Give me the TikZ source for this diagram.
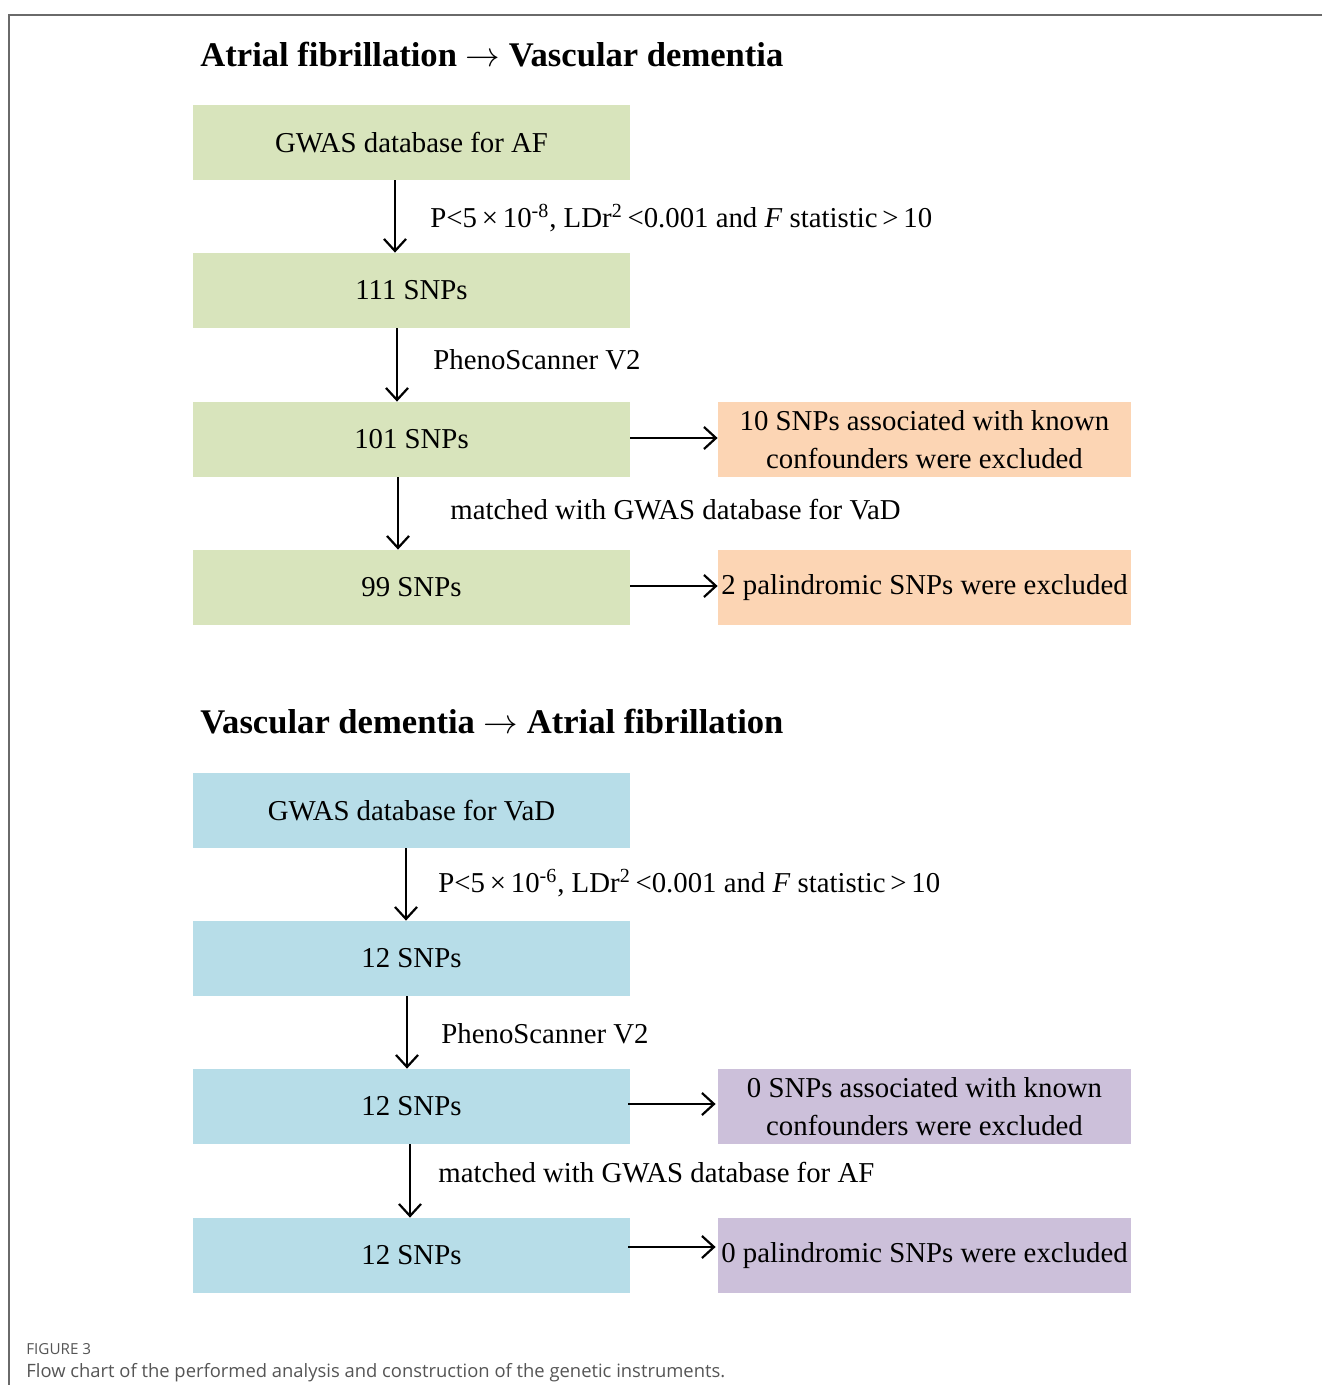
\documentclass[tikz,border=0pt]{standalone}
\usepackage{fontspec}
\setmainfont{Liberation Serif}
\newfontfamily\capfont{Open Sans}
\usetikzlibrary{arrows.meta}
\definecolor{gfill}{HTML}{D8E4BC}
\definecolor{ofill}{HTML}{FCD5B4}
\definecolor{bfill}{HTML}{B7DDE8}
\definecolor{pfill}{HTML}{CCC0DA}
\definecolor{framec}{HTML}{6A6A6A}
\definecolor{capc}{HTML}{555555}
\tikzset{
  mainbox/.style={minimum width=218.5pt, minimum height=37.5pt, inner sep=0pt, font=\fontsize{14.4}{17}\selectfont},
  sidebox/.style={minimum width=206.5pt, minimum height=37.5pt, inner sep=0pt, align=center, font=\fontsize{14.4}{19}\selectfont},
  gbox/.style={mainbox, fill=gfill},
  bbox/.style={mainbox, fill=bfill},
  obox/.style={sidebox, fill=ofill},
  pbox/.style={sidebox, fill=pfill},
  arr/.style={line width=1.2pt, -{Straight Barb[length=6pt, width=11pt, line width=1.1pt]}},
  steplabel/.style={anchor=west, inner sep=0pt, font=\fontsize{14.4}{17}\selectfont},
  titletext/.style={anchor=west, inner sep=0pt, font=\fontsize{17.3}{20}\selectfont\bfseries},
}
\begin{document}
\begin{tikzpicture}[x=0.5pt, y=-0.5pt]
\useasboundingbox (0,0) rectangle (1322,1385);
\draw[framec, line width=1pt] (1322,15) -- (9,15) -- (9,1385);

% Titles
\node[titletext] (t1) at (200,55) {Atrial fibrillation $\rightarrow$ Vascular dementia};
\node[titletext] (t2) at (200,722) {Vascular dementia $\rightarrow$ Atrial fibrillation};

% Top chain
\node[gbox] (g1) at (411.5,142.5) {\raisebox{-1pt}{GWAS database for AF}};
\node[gbox] (g2) at (411.5,290.5) {\raisebox{-1pt}{111 SNPs}};
\node[gbox] (g3) at (411.5,439.5) {\raisebox{-1pt}{101 SNPs}};
\node[gbox] (g4) at (411.5,587.5) {\raisebox{-1pt}{99 SNPs}};
\node[obox] (o1) at (924.5,439.5) {10 SNPs associated with known\\confounders were excluded};
\node[obox] (o2) at (924.5,587.5) {\raisebox{-1pt}{2 palindromic SNPs were excluded}};

\draw[arr] ([xshift=-8.25pt]g1.south) -- ([xshift=-8.25pt]g2.north);
\draw[arr] ([xshift=-7.25pt]g2.south) -- ([xshift=-7.25pt]g3.north);
\draw[arr] ([xshift=-6.75pt]g3.south) -- ([xshift=-6.75pt]g4.north);
\draw[arr] ([yshift=0.75pt]g3.east) -- ([yshift=0.75pt]o1.west);
\draw[arr] ([yshift=0.75pt]g4.east) -- ([yshift=0.75pt]o2.west);

\node[steplabel] (l1) at (430,218) {P<5\,×\,10\textsuperscript{-8}, LDr\textsuperscript{2}\,<0.001 and \textit{F} statistic\,>\,10};
\node[steplabel] (l2) at (433,360) {PhenoScanner V2};
\node[steplabel] (l3) at (450,510) {matched with GWAS database for VaD};

% Bottom chain
\node[bbox] (b1) at (411.5,810.5) {\raisebox{-1pt}{GWAS database for VaD}};
\node[bbox] (b2) at (411.5,958.5) {\raisebox{-1pt}{12 SNPs}};
\node[bbox] (b3) at (411.5,1106.5) {\raisebox{-1pt}{12 SNPs}};
\node[bbox] (b4) at (411.5,1255.5) {\raisebox{-1pt}{12 SNPs}};
\node[pbox] (p1) at (924.5,1106.5) {0 SNPs associated with known\\confounders were excluded};
\node[pbox] (p2) at (924.5,1255.5) {\raisebox{-1pt}{0 palindromic SNPs were excluded}};

\draw[arr] ([xshift=-2.75pt]b1.south) -- ([xshift=-2.75pt]b2.north);
\draw[arr] ([xshift=-2.25pt]b2.south) -- ([xshift=-2.25pt]b3.north);
\draw[arr] ([xshift=-0.75pt]b3.south) -- ([xshift=-0.75pt]b4.north);
\draw[arr] ([xshift=-1pt,yshift=1.25pt]b3.east) -- ([xshift=-1pt,yshift=1.25pt]p1.west);
\draw[arr] ([xshift=-1pt,yshift=4.25pt]b4.east) -- ([xshift=-1pt,yshift=4.25pt]p2.west);

\node[steplabel] (l4) at (438,883) {P<5\,×\,10\textsuperscript{-6}, LDr\textsuperscript{2}\,<0.001 and \textit{F} statistic\,>\,10};
\node[steplabel] (l5) at (441,1034) {PhenoScanner V2};
\node[steplabel] (l6) at (438,1173) {matched with GWAS database for AF};

% Caption
\node[anchor=base west, inner sep=0pt, text=capc, font=\capfont\fontsize{7.6}{8}\selectfont] (cap1) at (26,1354) {FIGURE 3};
\node[anchor=base west, inner sep=0pt, text=capc, font=\capfont\fontsize{9.2}{10}\selectfont] (cap2) at (26,1377) {Flow chart of the performed analysis and construction of the genetic instruments.};
\end{tikzpicture}
\end{document}
